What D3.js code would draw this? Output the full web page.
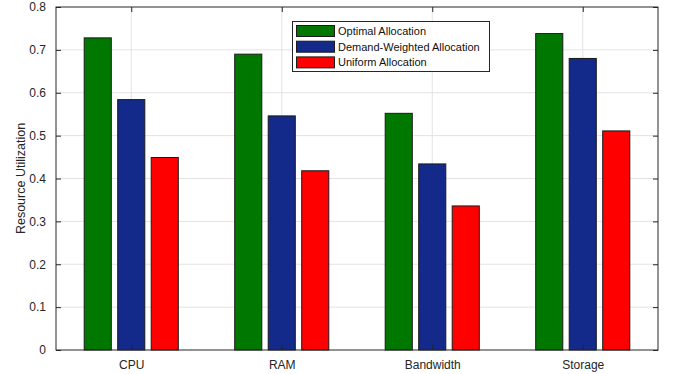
<!DOCTYPE html>
<html>
<head>
<meta charset="utf-8">
<script src="https://cdn.jsdelivr.net/npm/d3@7"></script>
<style>
  html, body { margin: 0; padding: 0; background: #fff; }
  svg { display: block; font-family: "Liberation Sans", Arial, Helvetica, sans-serif; }
</style>
</head>
<body>
<svg id="chart" width="677" height="374"></svg>
<script>
// Resource categories and utilization per allocation strategy
const categories = ["CPU", "RAM", "Bandwidth", "Storage"];
const seriesNames = ["Optimal Allocation", "Demand-Weighted Allocation", "Uniform Allocation"];
const optimal = [0.728, 0.690, 0.552, 0.738];
const demandWeighted = [0.584, 0.546, 0.434, 0.680];
const uniform = [0.449, 0.418, 0.336, 0.511];
const seriesColors = ["#007800", "#142a8a", "#ff0000"];
const yTicks = [0, 0.1, 0.2, 0.3, 0.4, 0.5, 0.6, 0.7, 0.8];
const yLabel = "Resource Utilization";

const series = [optimal, demandWeighted, uniform];

const svg = d3.select("#chart");
const plot = { left: 56, right: 658, top: 7, bottom: 350 };

// Categories sit at integer positions 1..4, axis spans 0.5..4.5
const x = d3.scaleLinear().domain([0.5, categories.length + 0.5]).range([plot.left, plot.right]);
const y = d3.scaleLinear().domain([0, 0.8]).range([plot.bottom, plot.top]);

const groupStep = x(2) - x(1);
const barOffset = groupStep * 0.2226;
const barWidth = groupStep * 0.18;

// Grid lines
const grid = svg.append("g");
grid.selectAll("line.h").data(yTicks.slice(1, -1)).join("line")
  .attr("x1", plot.left).attr("x2", plot.right)
  .attr("y1", d => y(d)).attr("y2", d => y(d))
  .attr("stroke", "#e3e3e3").attr("stroke-width", 1);
grid.selectAll("line.v").data(categories).join("line")
  .attr("x1", (d, i) => x(i + 1)).attr("x2", (d, i) => x(i + 1))
  .attr("y1", plot.top).attr("y2", plot.bottom)
  .attr("stroke", "#e3e3e3").attr("stroke-width", 1);

// Bars
series.forEach((vals, s) => {
  svg.append("g").selectAll("rect").data(vals).join("rect")
    .attr("x", (d, i) => x(i + 1) + (s - 1) * barOffset - barWidth / 2)
    .attr("y", d => y(d))
    .attr("width", barWidth)
    .attr("height", d => y(0) - y(d))
    .attr("fill", seriesColors[s])
    .attr("stroke", "#1a1a1a")
    .attr("stroke-width", 1);
});

// Axes with inward ticks on all four sides
const axisColor = "#262626";
const tickLen = 5;
const yAxis = d3.axisLeft(y).tickValues(yTicks).tickSizeInner(-tickLen).tickSizeOuter(0).tickPadding(10)
  .tickFormat(d => d === 0 ? "0" : d3.format(".1f")(d));
const gy = svg.append("g").attr("transform", `translate(${plot.left},0)`).call(yAxis);
gy.select(".domain").remove();
gy.selectAll("text").attr("font-size", 12).attr("fill", axisColor).attr("font-family", "Liberation Sans, Arial, sans-serif");
gy.selectAll("line").attr("stroke", axisColor);

const gyr = svg.append("g").attr("transform", `translate(${plot.right},0)`)
  .call(d3.axisRight(y).tickValues(yTicks).tickSizeInner(-tickLen).tickSizeOuter(0).tickFormat(""));
gyr.select(".domain").remove();
gyr.selectAll("line").attr("stroke", axisColor);

const xAxis = d3.axisBottom(x).tickValues(d3.range(1, categories.length + 1))
  .tickSizeInner(-tickLen).tickSizeOuter(0).tickPadding(10)
  .tickFormat(d => categories[d - 1]);
const gx = svg.append("g").attr("transform", `translate(0,${plot.bottom})`).call(xAxis);
gx.select(".domain").remove();
gx.selectAll("text").attr("font-size", 12).attr("fill", axisColor).attr("font-family", "Liberation Sans, Arial, sans-serif");
gx.selectAll("line").attr("stroke", axisColor);

const gxt = svg.append("g").attr("transform", `translate(0,${plot.top})`)
  .call(d3.axisTop(x).tickValues(d3.range(1, categories.length + 1)).tickSizeInner(-tickLen).tickSizeOuter(0).tickFormat(""));
gxt.select(".domain").remove();
gxt.selectAll("line").attr("stroke", axisColor);

// Axes box
svg.append("rect")
  .attr("x", plot.left).attr("y", plot.top)
  .attr("width", plot.right - plot.left).attr("height", plot.bottom - plot.top)
  .attr("fill", "none").attr("stroke", axisColor).attr("stroke-width", 1);

// Y axis title
svg.append("text")
  .attr("transform", `translate(24.5,${(plot.top + plot.bottom) / 2}) rotate(-90)`)
  .attr("text-anchor", "middle")
  .attr("font-size", 12.5)
  .attr("fill", axisColor)
  .text(yLabel);

// Legend
const legend = svg.append("g").attr("transform", "translate(292.5,21.5)");
legend.append("rect")
  .attr("width", 197).attr("height", 50)
  .attr("fill", "#fff").attr("stroke", axisColor).attr("stroke-width", 1);
seriesNames.forEach((name, i) => {
  const row = legend.append("g").attr("transform", `translate(4,${4 + i * 15.7})`);
  row.append("rect").attr("width", 38).attr("height", 11)
    .attr("fill", seriesColors[i]).attr("stroke", "#1a1a1a").attr("stroke-width", 1);
  row.append("text").attr("x", 41.5).attr("y", 9.5)
    .attr("font-size", 11).attr("fill", "#111")
    .text(name);
});
</script>
</body>
</html>
